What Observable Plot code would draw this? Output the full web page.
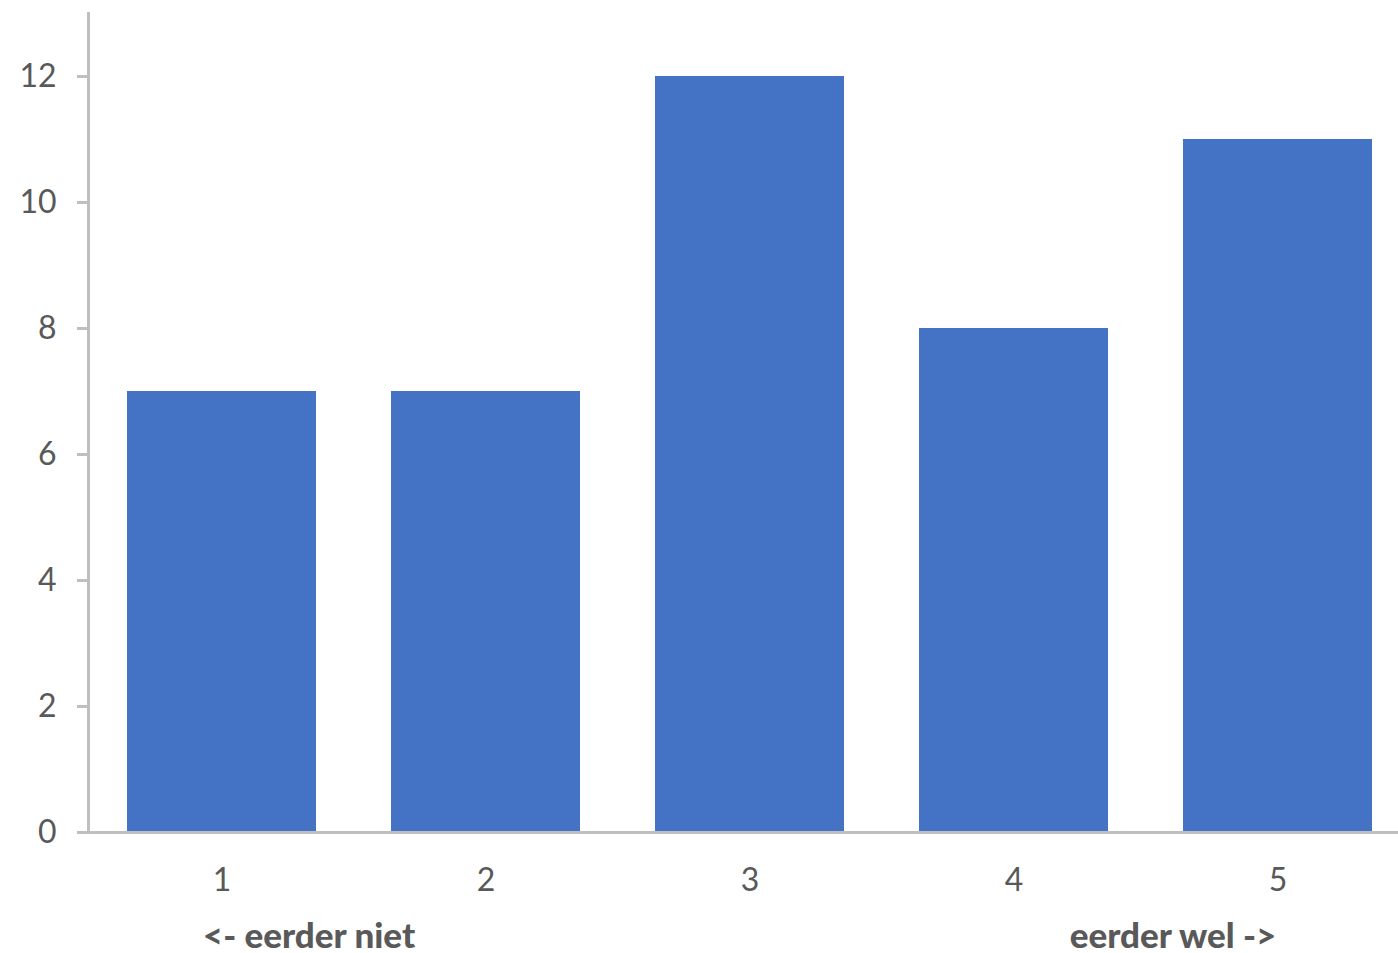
<!DOCTYPE html>
<html>
<head>
<meta charset="utf-8">
<script src="https://cdn.jsdelivr.net/npm/d3@7"></script>
<script src="https://cdn.jsdelivr.net/npm/@observablehq/plot@0.6"></script>
<style>
  html, body { margin: 0; padding: 0; background: #fff; overflow: hidden; }
  #chart svg { display: block; max-width: none !important; }
</style>
</head>
<body>
<div id="chart"></div>
<script>
const categories = ["1", "2", "3", "4", "5"];
const counts = [7, 7, 12, 8, 11];
const yTicks = [0, 2, 4, 6, 8, 10, 12];
const annotationCats = ["1", "5"];
const annotationLabels = ["<- eerder niet", "eerder wel ->"];
const annotationShift = [87, -105];

const data = categories.map((c, i) => ({cat: c, n: counts[i]}));
const notes = annotationCats.map((c, i) => ({cat: c, label: annotationLabels[i], dx: annotationShift[i]}));

const axisColor = "#bfbfbf";
const textColor = "#595959";
const font = "Lato, 'Open Sans', sans-serif";

const chart = Plot.plot({
  width: 1411,
  height: 953,
  marginLeft: 88,
  marginRight: 0,
  marginTop: 13,
  marginBottom: 121,
  style: {fontFamily: font, fontSize: "31px", color: textColor, background: "#fff", maxWidth: "none"},
  x: {domain: categories, paddingInner: 0.285, paddingOuter: 0.1425, label: null},
  y: {domain: [0, 13], label: null},
  marks: [
    Plot.barY(data, {x: "cat", y: "n", fill: "#4472c4"}),
    Plot.frame({anchor: "left", stroke: axisColor, strokeWidth: 3, strokeOpacity: 1}),
    Plot.ruleY([0], {stroke: axisColor, strokeWidth: 3}),
    Plot.axisY(yTicks, {tickSize: 11, tickPadding: 21, tickFormat: "d", stroke: axisColor, strokeWidth: 3, fill: textColor, fontSize: 32, label: null}),
    Plot.axisX({tickSize: 0, tickPadding: 36, fill: textColor, fontSize: 32, label: null}),
    ...notes.map(d => Plot.text([d], {x: "cat", text: "label", frameAnchor: "bottom", dy: 115, dx: d.dx, fill: textColor, fontSize: 35, fontWeight: 900}))
  ]
});
document.getElementById("chart").appendChild(chart);
</script>
</body>
</html>
